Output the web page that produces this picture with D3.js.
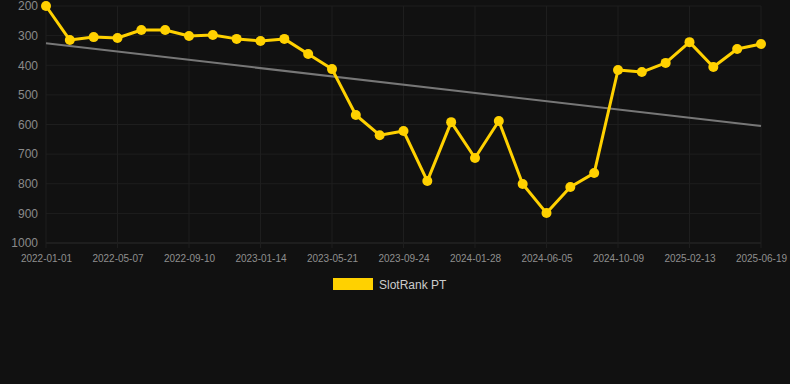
<!DOCTYPE html>
<html>
<head>
<meta charset="utf-8">
<script src="https://cdn.jsdelivr.net/npm/d3@7"></script>
<style>
  body { margin: 0; background: #111111; }
  #chart { width: 790px; height: 384px; }
  text { font-family: "Liberation Sans", Arial, sans-serif; }
</style>
</head>
<body>
<div id="chart"></div>
<script>
// one point per period, a date label every 3rd point
const rankValues = [200, 315, 305, 308, 281, 281, 301, 298, 311, 318, 311, 362, 413, 568, 636, 622,
    791, 592, 713, 588, 801, 899, 811, 764, 416, 423, 392, 322, 406, 345, 328];
const trendValues = [326, 605];
const tickLabels = ["2022-01-01", "2022-05-07", "2022-09-10", "2023-01-14", "2023-05-21", "2023-09-24",
    "2024-01-28", "2024-06-05", "2024-10-09", "2025-02-13", "2025-06-19"];
const labelEvery = 3;
const yTicks = [200, 300, 400, 500, 600, 700, 800, 900, 1000];
const seriesName = "SlotRank PT";

const data = rankValues.map((v, i) => ({i: i, value: v}));
const tickIdx = tickLabels.map((d, k) => k * labelEvery);

const margin = {top: 6, right: 29, bottom: 141, left: 46};
const width = 790, height = 384;

const svg = d3.select("#chart").append("svg")
    .attr("width", width)
    .attr("height", height);

const x = d3.scaleLinear()
    .domain([0, rankValues.length - 1])
    .range([margin.left, width - margin.right]);

const y = d3.scaleLinear()
    .domain([200, 1000])
    .range([margin.top, height - margin.bottom]);

// grid
svg.append("g")
    .selectAll("line")
    .data(yTicks)
    .join("line")
    .attr("x1", margin.left)
    .attr("x2", width - margin.right)
    .attr("y1", d => y(d))
    .attr("y2", d => y(d))
    .attr("stroke", d => d === 1000 ? "#2c2c2c" : "#1e1e1e")
    .attr("stroke-width", 1);

svg.append("g")
    .selectAll("line")
    .data(tickIdx)
    .join("line")
    .attr("x1", d => x(d))
    .attr("x2", d => x(d))
    .attr("y1", margin.top)
    .attr("y2", height - margin.bottom + 5)
    .attr("stroke", "#1e1e1e")
    .attr("stroke-width", 1);

// axes
const yAxis = svg.append("g")
    .attr("transform", "translate(" + (margin.left - 8) + ",0)")
    .call(d3.axisLeft(y).tickValues(yTicks).tickFormat(d3.format("d")).tickSize(0).tickPadding(0));
yAxis.select(".domain").remove();
yAxis.selectAll("text")
    .attr("fill", "#8a8a8a")
    .style("font-size", "12px");

const xAxis = svg.append("g")
    .attr("transform", "translate(0," + (height - margin.bottom) + ")")
    .call(d3.axisBottom(x).tickValues(tickIdx).tickFormat((d, k) => tickLabels[k]).tickSize(0).tickPadding(12));
xAxis.select(".domain").remove();
xAxis.selectAll("text")
    .attr("fill", "#8f8f8f")
    .style("font-size", "10px");

// trend line
svg.append("line")
    .attr("x1", x(0))
    .attr("x2", x(rankValues.length - 1))
    .attr("y1", y(trendValues[0]))
    .attr("y2", y(trendValues[1]))
    .attr("stroke", "#777777")
    .attr("stroke-width", 2);

// series
const line = d3.line()
    .x(d => x(d.i))
    .y(d => y(d.value));

svg.append("path")
    .datum(data)
    .attr("d", line)
    .attr("fill", "none")
    .attr("stroke", "#ffd100")
    .attr("stroke-width", 3)
    .attr("stroke-linejoin", "round");

svg.append("g")
    .selectAll("circle")
    .data(data)
    .join("circle")
    .attr("cx", d => x(d.i))
    .attr("cy", d => y(d.value))
    .attr("r", 5)
    .attr("fill", "#ffd100");

// legend
const legend = svg.append("g").attr("transform", "translate(333,278)");
legend.append("rect")
    .attr("width", 40)
    .attr("height", 12)
    .attr("fill", "#ffd100");
legend.append("text")
    .attr("x", 46)
    .attr("y", 10.5)
    .attr("fill", "#cccccc")
    .style("font-size", "12px")
    .text(seriesName);
</script>
</body>
</html>
